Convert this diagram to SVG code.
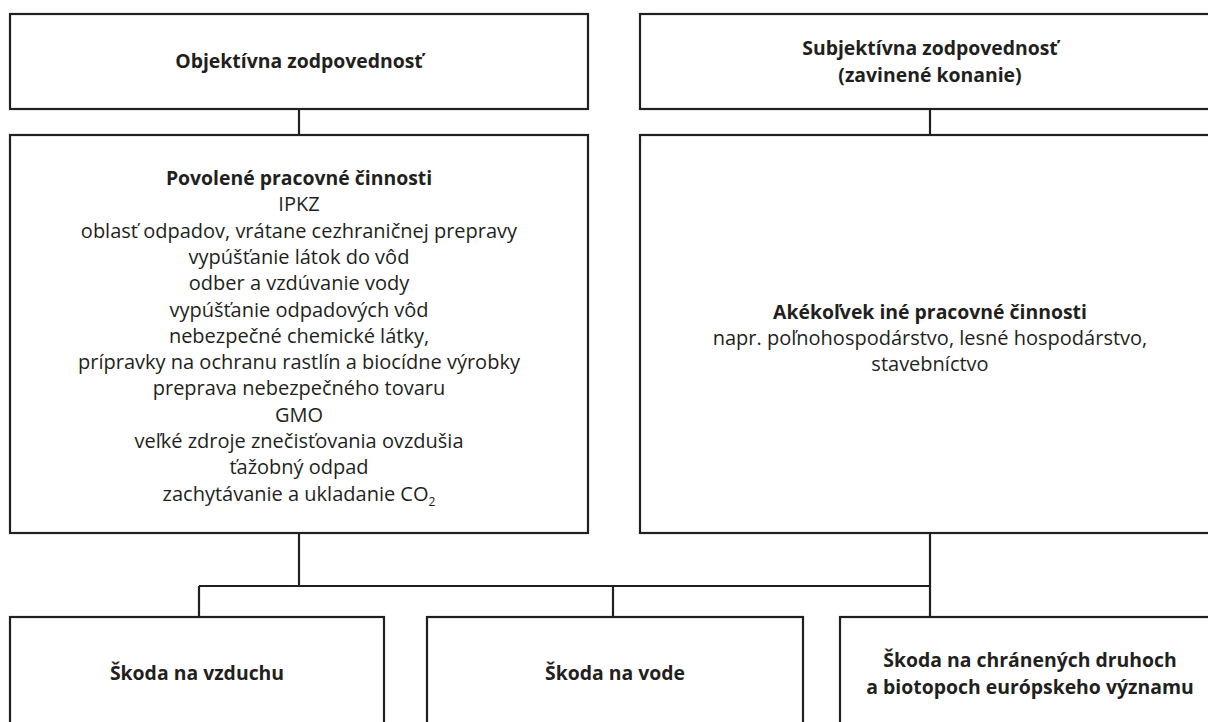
<svg xmlns="http://www.w3.org/2000/svg" width="1208" height="722" viewBox="0 0 1208 722">
<style>
.box{fill:#fff;stroke:#231f20;stroke-width:2.2}
.con{fill:none;stroke:#231f20;stroke-width:2.2}
text{font-family:"Open Sans","Noto Sans","Liberation Sans",sans-serif;font-size:20px;fill:#231f20;text-anchor:middle}
.b{font-weight:bold;font-size:19.4px}
</style>
<rect width="1208" height="722" fill="#fff"/>
<g id="connectors">
<path class="con" d="M299 109V135"/>
<path class="con" d="M930 109V135"/>
<path class="con" d="M299 533V586"/>
<path class="con" d="M199 586H930"/>
<path class="con" d="M199 586V617"/>
<path class="con" d="M613 586V617"/>
<path class="con" d="M930 533V617"/>
</g>
<g id="objektivna">
<rect class="box" x="10" y="14" width="578" height="95"/>
<text class="b" x="299" y="68">Objektívna zodpovednosť</text>
</g>
<g id="subjektivna">
<rect class="box" x="640" y="14" width="590" height="95"/>
<text class="b" x="930" y="55">Subjektívna zodpovednosť</text>
<text class="b" x="930" y="82">(zavinené konanie)</text>
</g>
<g id="povolene">
<rect class="box" x="10" y="135" width="578" height="398"/>
<text class="b" x="299" y="185">Povolené pracovné činnosti</text>
<text x="299" y="211.3">IPKZ</text>
<text x="299" y="237.6">oblasť odpadov, vrátane cezhraničnej prepravy</text>
<text x="299" y="263.9">vypúšťanie látok do vôd</text>
<text x="299" y="290.2">odber a vzdúvanie vody</text>
<text x="299" y="316.5">vypúšťanie odpadových vôd</text>
<text x="299" y="342.8">nebezpečné chemické látky,</text>
<text x="299" y="369.1">prípravky na ochranu rastlín a biocídne výrobky</text>
<text x="299" y="395.4">preprava nebezpečného tovaru</text>
<text x="299" y="421.7">GMO</text>
<text x="299" y="448">veľké zdroje znečisťovania ovzdušia</text>
<text x="299" y="474.3">ťažobný odpad</text>
<text x="299" y="500.6">zachytávanie a ukladanie CO<tspan font-size="12" dy="5">2</tspan></text>
</g>
<g id="akekolvek">
<rect class="box" x="640" y="135" width="590" height="398"/>
<text class="b" x="930" y="319">Akékoľvek iné pracovné činnosti</text>
<text x="930" y="345">napr. poľnohospodárstvo, lesné hospodárstvo,</text>
<text x="930" y="371">stavebníctvo</text>
</g>
<g id="vzduch">
<rect class="box" x="10" y="617" width="374" height="120"/>
<text class="b" x="197" y="680">Škoda na vzduchu</text>
</g>
<g id="voda">
<rect class="box" x="427" y="617" width="376" height="120"/>
<text class="b" x="615" y="680">Škoda na vode</text>
</g>
<g id="druhy">
<rect class="box" x="840" y="617" width="390" height="120"/>
<text class="b" x="1030" y="667">Škoda na chránených druhoch</text>
<text class="b" x="1030" y="694">a biotopoch európskeho významu</text>
</g>
</svg>
